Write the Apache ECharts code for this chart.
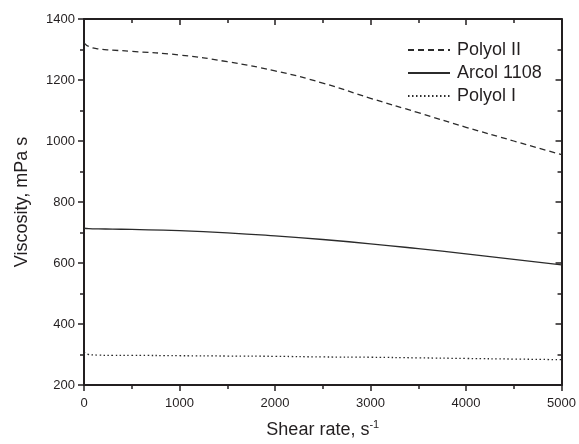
<!DOCTYPE html>
<html>
<head>
<meta charset="utf-8">
<script src="https://cdn.jsdelivr.net/npm/echarts@6/dist/echarts.min.js"></script>
<style>html,body{margin:0;padding:0;background:#fff}#c{width:579px;height:444px}</style>
</head>
<body>
<div id="c"></div>
<script>
var shearRates = [0, 50, 150, 300, 500, 1000, 1500, 2000, 2500, 3000, 3500, 4000, 4500, 5000];
var polyolII   = [1322, 1310, 1302, 1298, 1294, 1282, 1260, 1230, 1190, 1140, 1093, 1045, 1000, 955];
var arcol1108  = [714, 713, 712, 711, 710, 706, 699, 689, 677, 663, 647, 630, 612, 594];
var polyolI    = [307, 300, 298, 297, 297, 296, 295, 294, 292, 291, 289, 287, 285, 283];
var seriesNames = ['Polyol II', 'Arcol 1108', 'Polyol I'];
var xTicks = [0, 1000, 2000, 3000, 4000, 5000];
var yTicks = [200, 400, 600, 800, 1000, 1200, 1400];

function pairs(ys){ return shearRates.map(function(x,i){return [x, ys[i]];}); }
function plain(v){ return String(v); }

var axisColor = '#231f20';
var font = 'Liberation Sans, Arial, sans-serif';
var chart = echarts.init(document.getElementById('c'), null, {renderer:'canvas'});
var baseX = {
  type:'value', min:xTicks[0], max:xTicks[xTicks.length-1], interval:1000,
  axisLine:{show:true, onZero:false, lineStyle:{color:axisColor, width:2}},
  splitLine:{show:false},
  minorTick:{show:true, splitNumber:2, length:4, lineStyle:{color:axisColor, width:1.5}},
  minorSplitLine:{show:false}
};
var baseY = {
  type:'value', min:yTicks[0], max:yTicks[yTicks.length-1], interval:200,
  axisLine:{show:true, onZero:false, lineStyle:{color:axisColor, width:2}},
  splitLine:{show:false},
  minorTick:{show:true, splitNumber:2, length:4, lineStyle:{color:axisColor, width:1.5}},
  minorSplitLine:{show:false}
};
chart.setOption({
  animation:false,
  backgroundColor:'#fff',
  grid:{left:84, right:17, top:19, bottom:59, containLabel:false},
  legend:{
    orient:'vertical', left:402, top:36, itemWidth:42, itemHeight:14, itemGap:5,
    data:seriesNames,
    itemStyle:{opacity:0},
    textStyle:{fontFamily:font, fontSize:18, color:'#231f20', lineHeight:18, padding:[0,0,0,2]}
  },
  xAxis:[
    Object.assign({}, baseX, {
      position:'bottom',
      name:'Shear rate, s{sup|-1}', nameLocation:'middle', nameGap:34,
      nameTextStyle:{fontFamily:font, fontSize:18, color:'#231f20',
        rich:{sup:{fontFamily:font, fontSize:11, color:'#231f20', padding:[0,0,11,0]}}},
      axisTick:{show:true, inside:false, length:6, lineStyle:{color:axisColor, width:1.5}},
      axisLabel:{fontFamily:font, fontSize:13, color:'#231f20', margin:12, formatter:plain}
    }),
    Object.assign({}, baseX, {
      position:'top',
      axisTick:{show:true, inside:true, length:6, lineStyle:{color:axisColor, width:1.5}},
      axisLabel:{show:false}
    })
  ],
  yAxis:[
    Object.assign({}, baseY, {
      position:'left',
      name:'Viscosity, mPa s', nameLocation:'middle', nameGap:53,
      nameTextStyle:{fontFamily:font, fontSize:18, color:'#231f20'},
      axisTick:{show:true, inside:false, length:6, lineStyle:{color:axisColor, width:1.5}},
      axisLabel:{fontFamily:font, fontSize:13, color:'#231f20', margin:9, formatter:plain}
    }),
    Object.assign({}, baseY, {
      position:'right',
      axisTick:{show:true, inside:true, length:6, lineStyle:{color:axisColor, width:1.5}},
      axisLabel:{show:false}
    })
  ],
  series:[
    {name:seriesNames[0], type:'line', smooth:true, symbol:'none', data:pairs(polyolII),
     lineStyle:{color:'#2b2b2b', width:1.3, type:[6,4]}, itemStyle:{color:'#2b2b2b'}},
    {name:seriesNames[1], type:'line', smooth:true, symbol:'none', data:pairs(arcol1108),
     lineStyle:{color:'#2b2b2b', width:1.3, type:'solid'}, itemStyle:{color:'#2b2b2b'}},
    {name:seriesNames[2], type:'line', smooth:true, symbol:'none', data:pairs(polyolI),
     lineStyle:{color:'#2b2b2b', width:1.3, type:[1.5,2.5]}, itemStyle:{color:'#2b2b2b'}}
  ]
});
</script>
</body>
</html>
